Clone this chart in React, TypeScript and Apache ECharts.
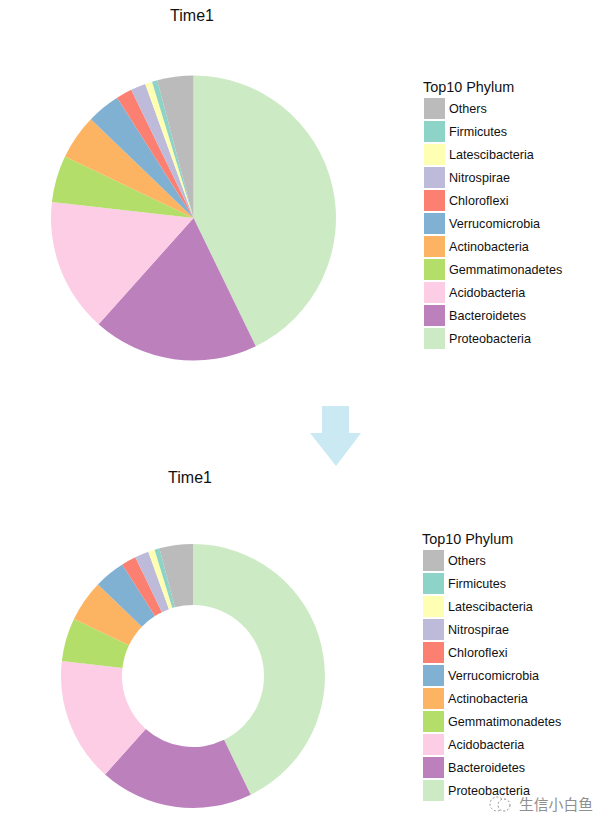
import React, { useEffect, useRef } from "react";
import * as echarts from "echarts";

const phyla = ["Proteobacteria", "Bacteroidetes", "Acidobacteria", "Gemmatimonadetes", "Actinobacteria", "Verrucomicrobia", "Chloroflexi", "Nitrospirae", "Latescibacteria", "Firmicutes", "Others"];
const shares = [42.8, 18.8, 15.2, 5.3, 5.1, 3.8, 1.8, 1.7, 0.8, 0.6, 4.1];
const colors = ["#CCEBC5", "#BC80BD", "#FCCDE5", "#B3DE69", "#FDB462", "#80B1D3", "#FB8072", "#BEBADA", "#FFFFB3", "#8DD3C7", "#BBBBBB"];
const chartTitle = "Time1";
const legendTitle = "Top10 Phylum";
const watermark = "生信小白鱼";

const FONT = "'Liberation Sans', Arial, sans-serif";

export default function App() {
  const ref = useRef<HTMLDivElement>(null);
  useEffect(() => {
    document.body.style.margin = "0";
    const chart = echarts.init(ref.current!, undefined, { renderer: "svg" });
    const pieData = phyla.map((name, i) => ({ name, value: shares[i] }));
    const legendNames = [...phyla].reverse();
    const legend = (left: number, top: number) => ({
      orient: "vertical",
      left,
      top,
      padding: 0,
      itemWidth: 21,
      itemHeight: 21,
      itemGap: 2,
      icon: "rect",
      selectedMode: false,
      data: legendNames,
      textStyle: { fontFamily: FONT, fontSize: 12.6, color: "#111", padding: [4, 0, 0, -1] },
    });
    const pie = (center: number[], radius: any) => ({
      type: "pie",
      center,
      radius,
      startAngle: 90,
      clockwise: true,
      silent: true,
      label: { show: false },
      labelLine: { show: false },
      data: pieData,
    });
    chart.setOption({
      animation: false,
      backgroundColor: "#fff",
      color: colors,
      title: [
        { text: chartTitle, left: 187, top: 2, textAlign: "center", textStyle: { fontFamily: FONT, fontSize: 16, fontWeight: "normal", color: "#111" } },
        { text: chartTitle, left: 185, top: 464, textAlign: "center", textStyle: { fontFamily: FONT, fontSize: 16, fontWeight: "normal", color: "#111" } },
      ],
      legend: [legend(424, 98), legend(423, 550)],
      series: [pie([193.5, 218], [0, 142.5]), pie([193, 676], [71, 132])],
      graphic: [
        { type: "text", x: 423, y: 80, style: { text: legendTitle, font: `14.4px ${FONT}`, fill: "#111" } },
        { type: "text", x: 422, y: 532, style: { text: legendTitle, font: `14.4px ${FONT}`, fill: "#111" } },
        {
          type: "polygon",
          shape: { points: [[322, 406], [349, 406], [349, 433], [361, 433], [336, 466], [310, 433], [322, 433]] },
          style: { fill: "#CBE9F3" },
        },
        { type: "circle", shape: { cx: 497, cy: 804, r: 7 }, style: { fill: "none", stroke: "#999", lineWidth: 1, lineDash: [2, 2] } },
        { type: "circle", shape: { cx: 504, cy: 805, r: 6 }, style: { fill: "#fff", stroke: "#888", lineWidth: 1, lineDash: [2, 2] } },
        { type: "text", x: 519, y: 796, style: { text: watermark, font: "14.8px 'Noto Sans CJK SC'", fill: "#8f8f8f" } },
      ],
    });
    return () => chart.dispose();
  }, []);
  return <div ref={ref} style={{ width: 613, height: 831, position: "absolute", left: 0, top: 0 }} />;
}
